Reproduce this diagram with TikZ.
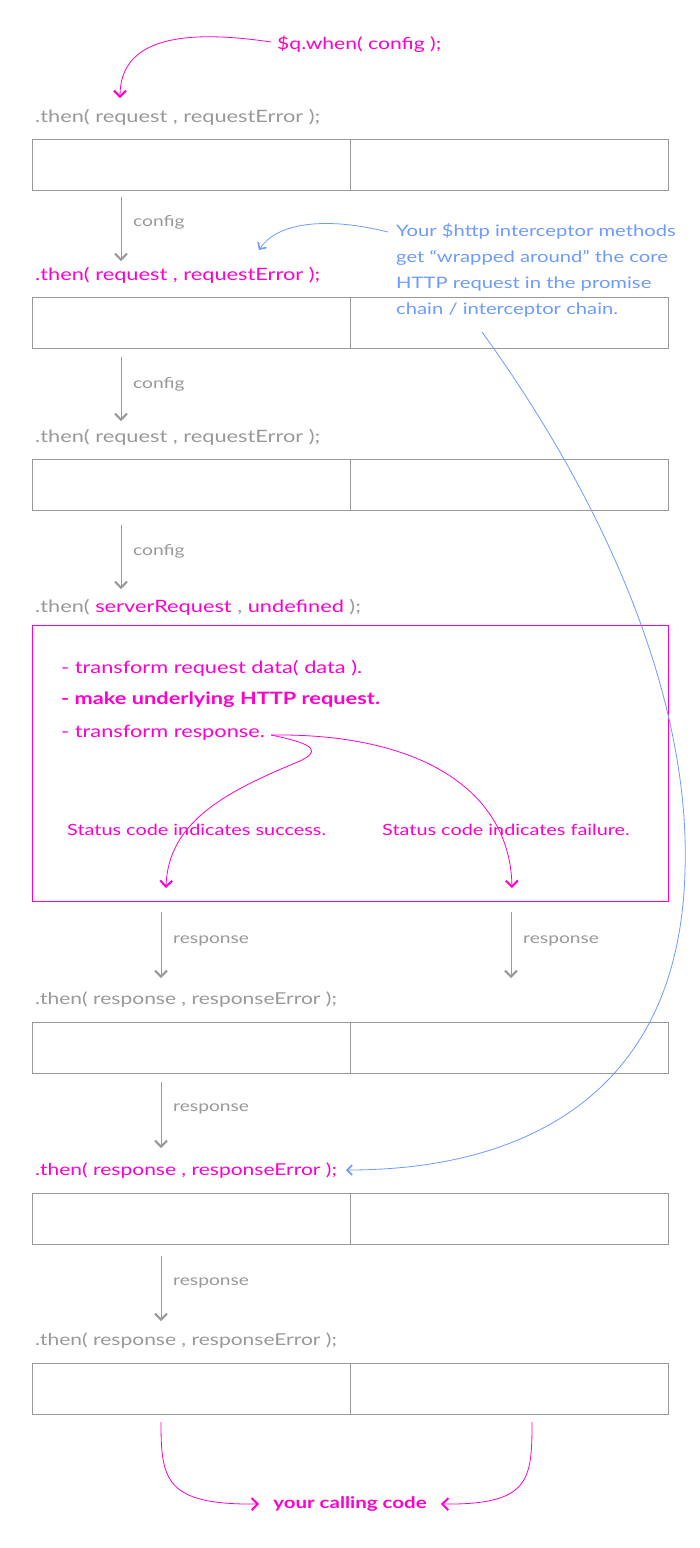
\documentclass[tikz,border=0pt]{standalone}
\usepackage{fontspec}
\setmainfont{Lato}[FakeStretch=1.28]
\usetikzlibrary{arrows.meta}
\definecolor{pk}{HTML}{FF00CC}
\definecolor{gr}{HTML}{999999}
\definecolor{bl}{HTML}{6E9BFF}
\tikzset{
  cbox/.style={draw=gr,line width=1pt,minimum width=636pt,minimum height=51pt,inner sep=0pt},
  pbox/.style={draw=pk,line width=1pt,minimum width=636pt,minimum height=276pt,inner sep=0pt},
  code/.style={anchor=west,inner sep=0pt,font=\fontsize{17}{20}\selectfont,text=gr},
  rcode/.style={code,font=\fontsize{16.4}{20}\selectfont},
  pcode/.style={code,text=pk},
  lbl/.style={anchor=west,inner sep=0pt,font=\fontsize{15}{18}\selectfont,text=gr},
  gflow/.style={draw=gr,line width=0.8pt,-{Straight Barb[length=6pt,width=12pt,line width=2pt]}},
  pflow/.style={draw=pk,line width=0.8pt,-{Straight Barb[length=6pt,width=12pt,line width=2pt]}},
  bflow/.style={draw=bl,line width=0.8pt,-{Straight Barb[length=5pt,width=10pt,line width=1.6pt]}},
}
\begin{document}
\begin{tikzpicture}[x=1pt,y=-1pt]
\useasboundingbox (0,0) rectangle (700,1548);
\fill[white] (0,0) rectangle (700,1548);

% top
\node[pcode,font=\fontsize{16.5}{20}\selectfont] (when) at (277,44) {\$q.when( config );};
\node[code] (t1) at (35,117) {.then( request , requestError );};
\coordinate (w0) at (271,42);
\coordinate (a0) at (120,98);
\draw[pflow] (w0) .. controls (190,30) and (120,35) .. (a0);

% box 1
\node[cbox] (b1) at (350,164.5) {};
\draw[gr,line width=1pt] (b1.north) -- (b1.south);
\node[pcode] (t2) at (35,275) {.then( request , requestError );};
\coordinate (s1) at (121,197); \coordinate (e1) at (121,261);
\draw[gflow] (s1) -- (e1);
\node[lbl] (l1) at (133,222) {config};

% box 2
\node[cbox] (b2) at (350,322.5) {};
\draw[gr,line width=1pt] (b2.north) -- (b2.south);
\node[code] (t3) at (35,437) {.then( request , requestError );};
\coordinate (s2) at (121,357); \coordinate (e2) at (121,421);
\draw[gflow] (s2) -- (e2);
\node[lbl] (l2) at (133,384) {config};

% blue note
\node[anchor=north west,inner sep=0pt,align=left,text=bl,font=\fontsize{15.8}{26}\selectfont] (note) at (396,223)
 {Your \$http interceptor methods\\get “wrapped around” the core\\HTTP request in the promise\\chain / interceptor chain.};
\coordinate (n1) at (388,232);
\draw[bflow] (n1) .. controls (320,215) and (275,225) .. (259,250);

% box 3
\node[cbox] (b3) at (350,484.5) {};
\draw[gr,line width=1pt] (b3.north) -- (b3.south);
\node[code] (t4) at (35,607) {.then( \textcolor{pk}{serverRequest} , \textcolor{pk}{undefined} );};
\coordinate (s3) at (121,525); \coordinate (e3) at (121,589);
\draw[gflow] (s3) -- (e3);
\node[lbl] (l3) at (133,551) {config};

% pink box
\node[pbox] (pb) at (350,763) {};
\node[pcode] (p1) at (61,668) {- transform request data( data ).};
\node[pcode,font=\fontsize{17}{20}\selectfont\bfseries] (p2) at (61,700) {- make underlying HTTP request.};
\node[pcode] (p3) at (61,733) {- transform response.};
\node[pcode,font=\fontsize{15.5}{18}\selectfont] (ok) at (67,830) {Status code indicates success.};
\node[pcode,font=\fontsize{15.5}{18}\selectfont] (ko) at (382,830) {Status code indicates failure.};
\coordinate (r0) at (271,735);
\coordinate (okE) at (166,888);
\coordinate (koE) at (512,888);
\draw[pflow] (r0) .. controls (320,745) and (318,752) .. (300,761) .. controls (230,790) and (168,820) .. (okE);
\draw[pflow] (r0) .. controls (420,733) and (510,790) .. (koE);

% response arrows below pink box
\node[rcode] (t5) at (35,1000) {.then( response , responseError );};
\coordinate (s4) at (161,912); \coordinate (e4) at (161,978);
\coordinate (s5) at (511,912); \coordinate (e5) at (511,978);
\draw[gflow] (s4) -- (e4);
\draw[gflow] (s5) -- (e5);
\node[lbl] (l4) at (173,941) {response};
\node[lbl] (l5) at (523,941) {response};

% box 4
\node[cbox] (b4) at (350,1047.5) {};
\draw[gr,line width=1pt] (b4.north) -- (b4.south);
\node[rcode,text=pk] (t6) at (35,1171) {.then( response , responseError );};
\coordinate (s6) at (161,1082); \coordinate (e6) at (161,1148);
\draw[gflow] (s6) -- (e6);
\node[lbl] (l6) at (173,1109) {response};

% long blue arrow
\coordinate (n2) at (482,332);
\coordinate (n3) at (346,1170);
\draw[bflow] (n2) .. controls (625,530) and (690,720) .. (685,870) .. controls (680,1090) and (530,1170) .. (n3);

% box 5
\node[cbox] (b5) at (350,1218.5) {};
\draw[gr,line width=1pt] (b5.north) -- (b5.south);
\node[rcode] (t7) at (35,1341) {.then( response , responseError );};
\coordinate (s7) at (161,1256); \coordinate (e7) at (161,1321);
\draw[gflow] (s7) -- (e7);
\node[lbl] (l7) at (173,1283) {response};

% box 6
\node[cbox] (b6) at (350,1388.5) {};
\draw[gr,line width=1pt] (b6.north) -- (b6.south);

% calling code
\node[inner ysep=2pt,inner xsep=14pt,text=pk,font=\fontsize{16}{18}\selectfont\bfseries] (cc) at (350,1504) {your calling code};
\coordinate (c1) at (161,1422);
\coordinate (c2) at (532,1422);
\draw[pflow] (c1) .. controls (161,1480) and (165,1505) .. (cc.west);
\draw[pflow] (c2) .. controls (532,1480) and (530,1505) .. (cc.east);
\end{tikzpicture}
\end{document}
